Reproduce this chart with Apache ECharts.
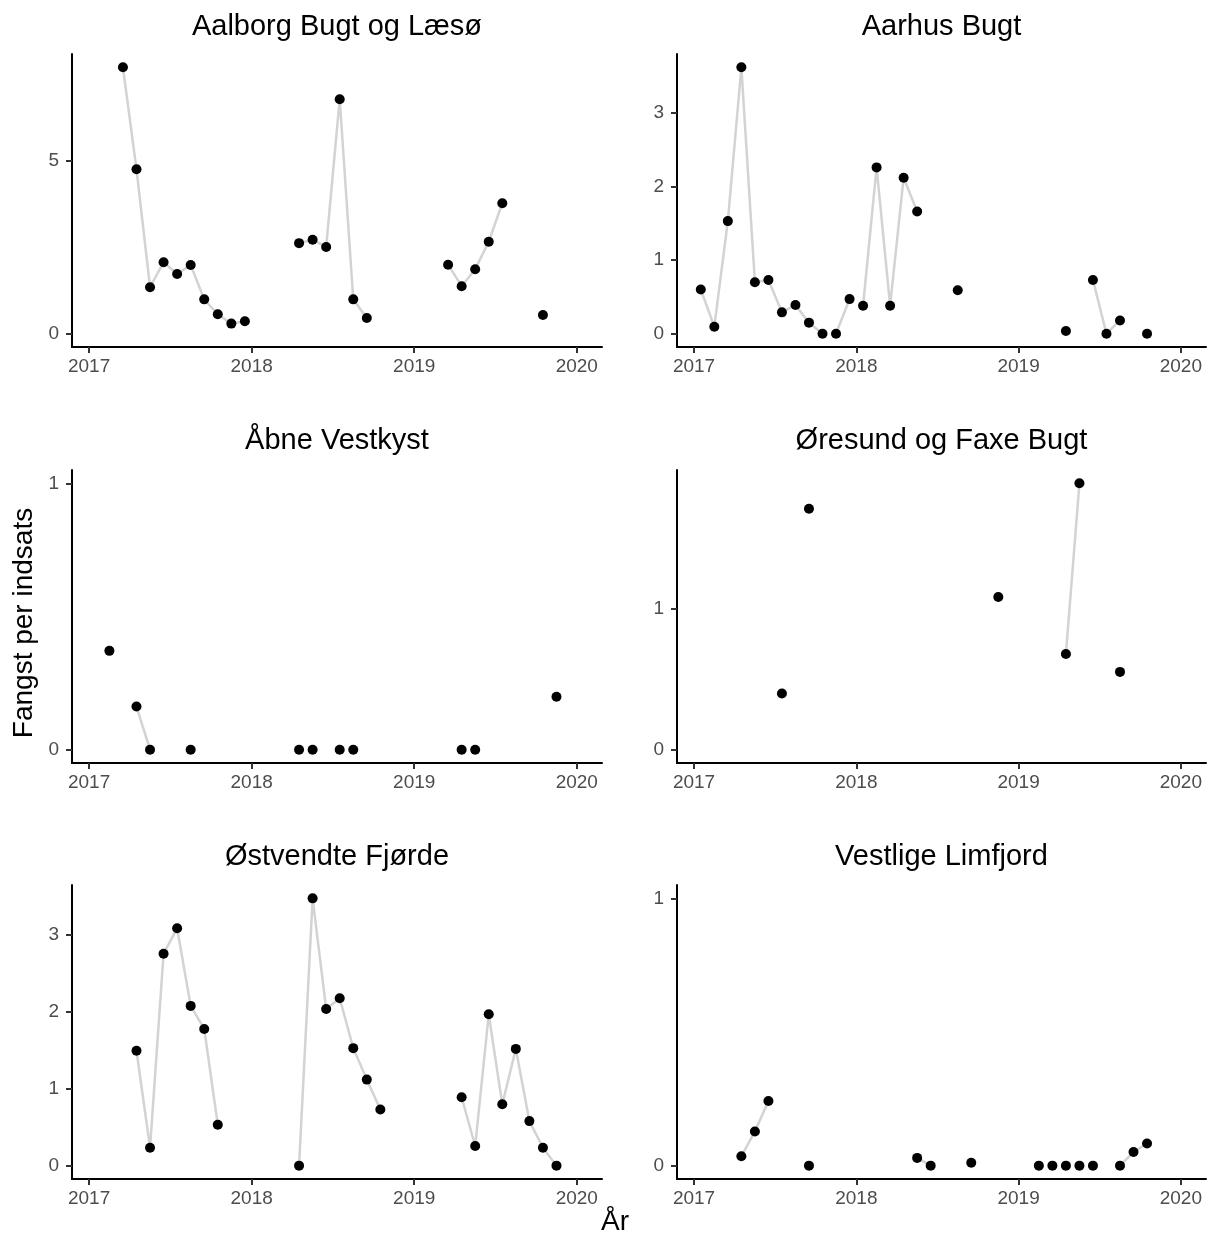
<!DOCTYPE html>
<html>
<head>
<meta charset="utf-8">
<script src="https://cdn.jsdelivr.net/npm/echarts@6/dist/echarts.min.js"></script>
<style>
html,body{margin:0;padding:0;background:#fff;}
#chart{width:1210px;height:1236px;}
</style>
</head>
<body>
<div id="chart"></div>
<script>
// ---------- DATA ----------
const regions = ['Aalborg Bugt og Læsø', 'Aarhus Bugt', 'Åbne Vestkyst', 'Øresund og Faxe Bugt', 'Østvendte Fjørde', 'Vestlige Limfjord'];
const startYear = 2017; // monthly values Jan 2017 .. Dec 2019
const yearTicks = [2017, 2018, 2019, 2020];
const aalborg = [null, null, 7.68, 4.74, 1.34, 2.06, 1.72, 1.98, 0.99, 0.56, 0.29, 0.36,
  null, null, null, 2.61, 2.71, 2.50, 6.76, 0.99, 0.45, null, null, null,
  null, null, 1.99, 1.37, 1.86, 2.65, 3.76, null, null, 0.54, null, null];
const aarhus = [0.60, 0.095, 1.53, 3.62, 0.70, 0.73, 0.29, 0.39, 0.15, 0, 0, 0.47,
  0.38, 2.26, 0.38, 2.12, 1.66, null, null, 0.59, null, null, null, null,
  null, null, null, 0.036, null, 0.73, 0, 0.18, null, 0, null, null];
const aabne = [null, 0.371, null, 0.162, 0, null, null, 0, null, null, null, null,
  null, null, null, 0, 0, null, 0, 0, null, null, null, null,
  null, null, null, 0, 0, null, null, null, null, null, 0.199, null];
const oeresund = [null, null, null, null, null, null, 0.399, null, 1.71, null, null, null,
  null, null, null, null, null, null, null, null, null, null, 1.083, null,
  null, null, null, 0.679, 1.89, null, null, 0.552, null, null, null, null];
const oestvendte = [null, null, null, 1.495, 0.234, 2.76, 3.09, 2.08, 1.78, 0.533, null, null,
  null, null, null, 0, 3.48, 2.04, 2.18, 1.53, 1.12, 0.73, null, null,
  null, null, null, 0.89, 0.256, 1.97, 0.80, 1.52, 0.58, 0.234, 0, null];
const vestlige = [null, null, null, 0.035, 0.128, 0.242, null, null, 0, null, null, null,
  null, null, null, null, 0.029, 0, null, null, 0.011, null, null, null,
  null, 0, 0, 0, 0, 0, null, 0, 0.051, 0.083, null, null];
const yTickValues = [[0, 5], [0, 1, 2, 3], [0, 1], [0, 1], [0, 1, 2, 3], [0, 1]];
const series6 = [aalborg, aarhus, aabne, oeresund, oestvendte, vestlige];

// ---------- LAYOUT ----------
const FONT = 'Liberation Sans, Arial, sans-serif';
const colLeft = [72, 677];
const colWidth = [530, 529];
const rowTop = [54, 470, 885];
const rowHeight = [293, 293, 294];
const titleY = [27, 441, 857];

function monthX(i) {
  return startYear + Math.floor(i / 12) + ((i % 12) + 0.5) / 12;
}

const grids = [], xAxes = [], yAxes = [], series = [], graphics = [];

series6.forEach((vals, p) => {
  const r = Math.floor(p / 2), c = p % 2;
  grids.push({left: colLeft[c], top: rowTop[r], width: colWidth[c], height: rowHeight[r], containLabel: false});
  const dataMax = Math.max(1, ...vals.filter(v => v !== null));
  xAxes.push({
    gridIndex: p, type: 'value', min: 2016.895, max: 2020.155,
    axisLine: {show: true, onZero: false, lineStyle: {color: '#000', width: 2}},
    axisTick: {show: true, length: 6, lineStyle: {color: '#333', width: 2}, customValues: yearTicks},
    axisLabel: {show: true, margin: 10, fontSize: 19, color: '#4d4d4d', fontFamily: FONT, customValues: yearTicks,
      formatter: v => String(Math.round(v))},
    splitLine: {show: false}
  });
  yAxes.push({
    gridIndex: p, type: 'value', min: -0.05 * dataMax, max: 1.05 * dataMax,
    axisLine: {show: true, onZero: false, lineStyle: {color: '#000', width: 2}},
    axisTick: {show: true, length: 6, lineStyle: {color: '#333', width: 2}, customValues: yTickValues[p]},
    axisLabel: {show: true, margin: 13, fontSize: 19, color: '#4d4d4d', fontFamily: FONT, customValues: yTickValues[p],
      formatter: v => String(Math.round(v))},
    splitLine: {show: false}
  });
  // line runs: consecutive months within the same year, not both zero
  let run = [];
  const flush = () => {
    if (run.length > 1) {
      series.push({type: 'line', xAxisIndex: p, yAxisIndex: p, data: run, showSymbol: false, symbol: 'none',
        lineStyle: {color: '#d3d3d3', width: 2.5, opacity: 1}, z: 2, silent: true, animation: false});
    }
    run = [];
  };
  for (let i = 0; i < vals.length; i++) {
    const ok = vals[i] !== null && i + 1 < vals.length && vals[i + 1] !== null &&
      Math.floor(i / 12) === Math.floor((i + 1) / 12) && !(vals[i] === 0 && vals[i + 1] === 0);
    if (ok) {
      if (run.length === 0) run.push([monthX(i), vals[i]]);
      run.push([monthX(i + 1), vals[i + 1]]);
    } else {
      flush();
    }
  }
  flush();
  const pts = [];
  vals.forEach((v, i) => { if (v !== null) pts.push([monthX(i), v]); });
  series.push({type: 'scatter', xAxisIndex: p, yAxisIndex: p, data: pts, symbol: 'circle', symbolSize: 10,
    itemStyle: {color: '#000', opacity: 1}, z: 5, silent: true, animation: false});
  graphics.push({type: 'text', x: colLeft[c] + colWidth[c] / 2, y: titleY[r],
    style: {text: regions[p], fontSize: 29, fontFamily: FONT, fill: '#000', align: 'center', verticalAlign: 'middle'}});
});

graphics.push({type: 'text', x: 24, y: 623, rotation: Math.PI / 2,
  style: {text: 'Fangst per indsats', fontSize: 28, fontFamily: FONT, fill: '#000', align: 'center', verticalAlign: 'middle'}});
graphics.push({type: 'text', x: 615, y: 1222,
  style: {text: 'År', fontSize: 28, fontFamily: FONT, fill: '#000', align: 'center', verticalAlign: 'middle'}});

const chart = echarts.init(document.getElementById('chart'), null, {renderer: 'canvas'});
chart.setOption({
  animation: false,
  backgroundColor: '#fff',
  grid: grids,
  xAxis: xAxes,
  yAxis: yAxes,
  series: series,
  graphic: graphics
});
</script>
</body>
</html>
